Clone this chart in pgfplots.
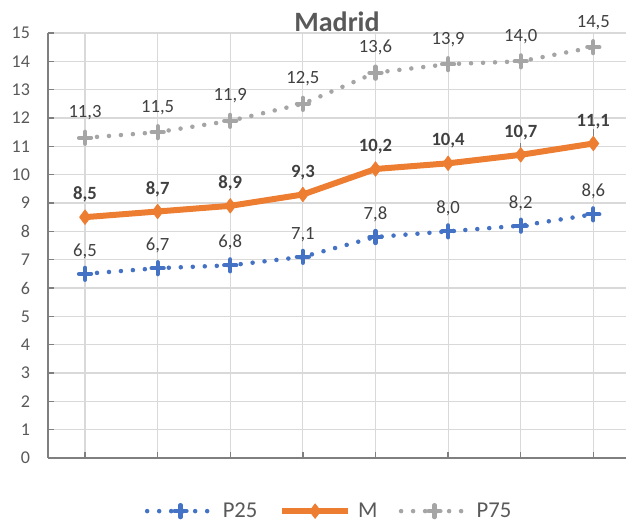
\documentclass[border=0pt]{standalone}
\usepackage{pgfplots}
\pgfplotsset{compat=1.18}
\usepackage{fontspec}
\setmainfont{Carlito}

\definecolor{cP25}{HTML}{4472C4}
\definecolor{cM}{HTML}{ED7D31}
\definecolor{cP75}{HTML}{A5A5A5}
\definecolor{txt}{HTML}{595959}
\definecolor{lbl}{HTML}{404040}
\definecolor{gridc}{HTML}{D9D9D9}
\definecolor{axc}{HTML}{7F7F7F}

\begin{document}
\begin{tikzpicture}
\useasboundingbox (0,0) rectangle (469.5pt,391.5pt);
\begin{axis}[
    at={(36pt,48pt)}, anchor=south west,
    scale only axis,
    width=433.5pt, height=318.75pt,
    xmin=0.49, xmax=8.45,
    ymin=0, ymax=15,
    xtick={1,...,8}, xticklabels={},
    ytick={0,1,...,15},
    axis x line=bottom, axis y line=left,
    axis line style={-, axc, line width=1.1pt},
    tick style={axc, line width=1pt},
    major tick length=4.5pt,
    tick align=inside,
    grid=major,
    major grid style={gridc, line width=0.9pt},
    /pgf/number format/assume math mode=true,
    /pgf/number format/.cd, fixed, fixed zerofill, precision=1, use comma,
    /pgfplots/.cd,
    yticklabel={\pgfmathprintnumber[fixed, precision=0, fixed zerofill=false]{\tick}},
    yticklabel style={font=\fontsize{13.5pt}{16pt}\selectfont, text=txt, anchor=east, xshift=-10pt},
    title={Madrid},
    title style={at={(axis description cs:0.5,1)}, anchor=base, yshift=-5pt,
        font=\fontsize{21pt}{24pt}\selectfont\bfseries, text=txt},
    legend style={at={(axis description cs:0.487,-0.125)}, anchor=center, draw=none,
        legend columns=3, font=\fontsize{17pt}{19pt}\selectfont, text=txt,
        /tikz/every odd column/.append style={column sep=3pt},
        /tikz/every even column/.append style={column sep=14pt}},
    legend image code/.code={\draw[mark repeat=2, mark phase=2, #1]
        plot coordinates {(0pt,0pt) (25pt,0pt) (50pt,0pt)};},
    every node near coord/.append style={anchor=base, text=lbl,
        font=\fontsize{14pt}{16pt}\selectfont},
    clip=false,
]
\addplot[cP25, line width=3.4pt, line cap=round, dash pattern=on 0pt off 9pt,
    mark=+, mark size=4.5pt, mark options={solid, line width=3.2pt},
    nodes near coords, every node near coord/.append style={yshift=13pt}]
    coordinates {(1,6.5) (2,6.7) (3,6.8) (4,7.1) (5,7.8) (6,8.0) (7,8.2) (8,8.6)};
\addlegendentry{P25}
% leader lines of the last two labels drawn as short plus-only bars
\addplot[cM, line width=4.5pt, line join=round,
    mark=diamond*, mark size=5.5pt, mark options={solid, line width=0.5pt},
    error bars/.cd, y dir=plus, y explicit, error mark=none,
    error bar style={axc, line width=0.9pt, solid},
    /pgfplots/.cd,
    nodes near coords={\bfseries\pgfmathprintnumber{\pgfplotspointmeta}},
    every node near coord/.append style={yshift=13pt}]
    coordinates {(1,8.5) (2,8.7) (3,8.9) (4,9.3) (5,10.2) (6,10.4)
                 (7,10.7) +- (0,0.42) (8,11.1) +- (0,0.5)};
\addlegendentry{M}
\addplot[cP75, line width=3.4pt, line cap=round, dash pattern=on 0pt off 9pt,
    mark=+, mark size=4.5pt, mark options={solid, line width=3.2pt},
    nodes near coords, every node near coord/.append style={yshift=15pt}]
    coordinates {(1,11.3) (2,11.5) (3,11.9) (4,12.5) (5,13.6) (6,13.9) (7,14.0) (8,14.5)};
\addlegendentry{P75}
\end{axis}
\end{tikzpicture}
\end{document}
